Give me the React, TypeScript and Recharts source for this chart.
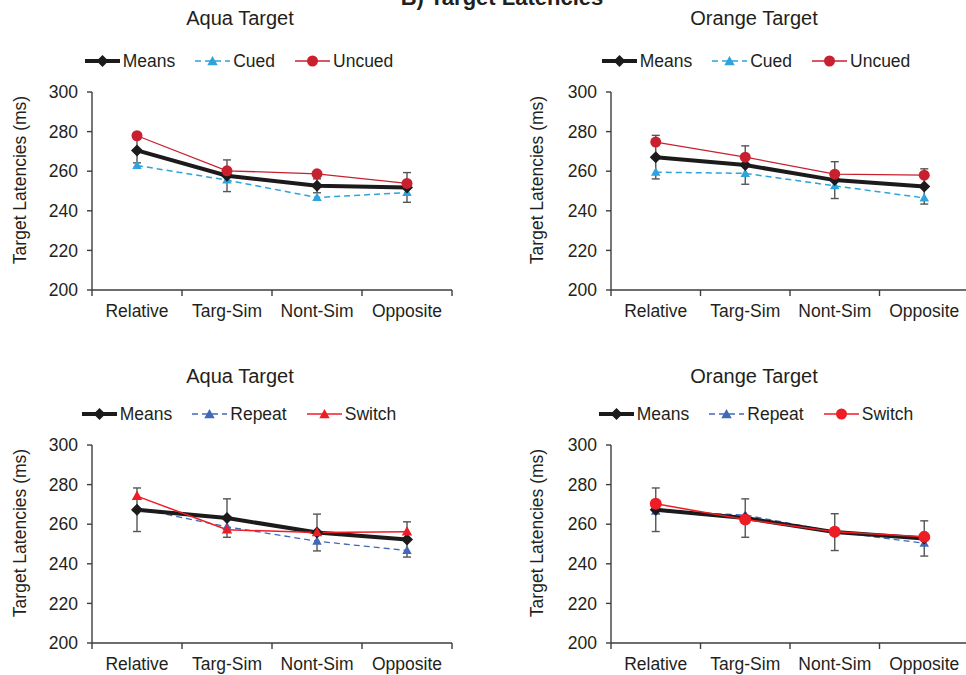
import React from 'react';
import { LineChart, Line, XAxis, YAxis, ErrorBar, Legend } from 'recharts';

// ---------- data ----------
const categories = ['Relative', 'Targ-Sim', 'Nont-Sim', 'Opposite'];
const yTicks = [200, 220, 240, 260, 280, 300];
const xTicks = [0, 0.5, 1, 1.5, 2, 2.5, 3, 3.5, 4];

// Top-left: Aqua Target (cued / uncued)
const aquaCueMeans = [270.5, 257.7, 252.6, 251.8];
const aquaCued = [262.9, 255.5, 246.7, 249.2];
const aquaUncued = [277.9, 260.2, 258.7, 253.8];
const aquaCueErr = [6.3, 8.0, 3.5, 7.5];

// Top-right: Orange Target (cued / uncued)
const orangeCueMeans = [267.1, 263.1, 255.5, 252.3];
const orangeCued = [259.5, 258.9, 252.6, 246.5];
const orangeUncued = [274.7, 267.1, 258.5, 258.0];
const orangeCueErr = [11.0, 9.7, 9.3, 8.9];

// Bottom-left: Aqua Target (repeat / switch)
const aquaSwMeans = [267.3, 263.1, 255.8, 252.3];
const aquaRepeat = [268.0, 258.7, 251.4, 246.7];
const aquaSwitch = [274.2, 257.2, 255.8, 256.2];
const aquaSwErr = [11.0, 9.7, 9.3, 8.9];

// Bottom-right: Orange Target (repeat / switch)
const orangeSwMeans = [267.3, 263.1, 256.0, 252.8];
const orangeRepeat = [266.6, 264.6, 256.2, 250.4];
const orangeSwitch = [270.3, 262.4, 256.2, 253.6];
const orangeSwErr = [11.0, 9.7, 9.3, 8.9];

// ---------- styles ----------
const FONT = '"Liberation Sans", Arial, Helvetica, sans-serif';
const TEXT = '#231f20';
const AXIS = '#3d3d3d';
const MEANS = '#1c1a1b';
const CUED = '#2ea3dc';
const UNCUED = '#c8202f';
const REPEAT = '#4169b8';
const SWITCH = '#ee1c25';
const ERR = '#555555';

type Row = { pos: number; name: string; means: number; a: number; b: number; err: number };

function buildRows(means: number[], a: number[], b: number[], err: number[]): Row[] {
  return categories.map((c, i) => ({ pos: i + 0.5, name: c, means: means[i], a: a[i], b: b[i], err: err[i] }));
}

// ---------- marker shapes ----------
const diamondPts = (cx: number, cy: number, s: number) =>
  `${cx},${cy - s} ${cx + s},${cy} ${cx},${cy + s} ${cx - s},${cy}`;
const trianglePts = (cx: number, cy: number, s: number) =>
  `${cx},${cy - s} ${cx + s * 0.95},${cy + s * 0.7} ${cx - s * 0.95},${cy + s * 0.7}`;

const makeDot = (kind: 'diamond' | 'triangle' | 'circle', color: string, size: number) => (p: any) => {
  const { cx, cy, index } = p;
  const key = `${kind}-${color}-${index}`;
  if (cx == null || cy == null) return <g key={key} />;
  if (kind === 'diamond') return <polygon key={key} points={diamondPts(cx, cy, size)} fill={color} />;
  if (kind === 'triangle') return <polygon key={key} points={trianglePts(cx, cy, size)} fill={color} />;
  return <circle key={key} cx={cx} cy={cy} r={size} fill={color} />;
};

const XTick = (props: any) => {
  const { x, y, payload } = props;
  const v = payload.value as number;
  if (Number.isInteger(v)) {
    return <line x1={x} x2={x} y1={y} y2={y + 6} stroke={AXIS} strokeWidth={1.4} />;
  }
  return (
    <text x={x} y={y + 27} textAnchor="middle" fill={TEXT} fontSize={17.5} fontFamily={FONT}>
      {categories[Math.floor(v)]}
    </text>
  );
};

type LegendSpec = { label: string; color: string; width: number; dash?: string; kind: 'diamond' | 'triangle' | 'circle'; size: number };

const LegendRow = ({ items }: { items: LegendSpec[] }) => (
  <div
    style={{
      display: 'flex',
      alignItems: 'center',
      justifyContent: 'center',
      fontFamily: FONT,
      fontSize: 17.5,
      color: TEXT,
      whiteSpace: 'nowrap',
      width: '100%',
      height: 22,
    }}
  >
    {items.map((it, i) => (
      <div key={it.label} style={{ display: 'flex', alignItems: 'center', marginLeft: i === 0 ? 0 : 20 }}>
        <svg width={35} height={16} style={{ display: 'block' }}>
          <line x1={0} x2={35} y1={8} y2={8} stroke={it.color} strokeWidth={it.width} strokeDasharray={it.dash} />
          {it.kind === 'diamond' && <polygon points={diamondPts(17.5, 8, it.size)} fill={it.color} />}
          {it.kind === 'triangle' && <polygon points={trianglePts(17.5, 8.5, it.size)} fill={it.color} />}
          {it.kind === 'circle' && <circle cx={17.5} cy={8} r={it.size} fill={it.color} />}
        </svg>
        <span style={{ marginLeft: 3, lineHeight: '22px' }}>{it.label}</span>
      </div>
    ))}
  </div>
);

type PanelProps = {
  left: number;
  top: number;
  width: number;
  yAxisWidth: number;
  rightMargin: number;
  labelX: number;
  legendCenter: number;
  rows: Row[];
  aName: string;
  aColor: string;
  aKind: 'triangle' | 'circle';
  aSize: number;
  aDash?: string;
  aWidth: number;
  bName: string;
  bColor: string;
  bKind: 'triangle' | 'circle';
  bSize: number;
  bDash?: string;
  bWidth: number;
};

const PLOT_TOP = 92;
const PLOT_H = 198;
const XAXIS_H = 40;

const Panel = (p: PanelProps) => {
  const legendItems: LegendSpec[] = [
    { label: 'Means', color: MEANS, width: 4, kind: 'diamond', size: 6 },
    { label: p.aName, color: p.aColor, width: p.aWidth, dash: p.aDash, kind: p.aKind, size: p.aKind === 'circle' ? 5.5 : 5.5 },
    { label: p.bName, color: p.bColor, width: p.bWidth, dash: p.bDash, kind: p.bKind, size: p.bKind === 'circle' ? 5.5 : 5.5 },
  ];
  const legendW = 380;
  return (
    <div style={{ position: 'absolute', left: p.left, top: p.top }}>
      <LineChart
        width={p.width}
        height={PLOT_TOP + PLOT_H + XAXIS_H}
        data={p.rows}
        margin={{ top: PLOT_TOP, right: p.rightMargin, bottom: 0, left: 0 }}
      >
        <XAxis
          type="number"
          dataKey="pos"
          domain={[0, 4]}
          ticks={xTicks}
          interval={0}
          tickSize={0}
          tickMargin={0}
          tickLine={false}
          tick={XTick}
          height={XAXIS_H}
          axisLine={{ stroke: AXIS, strokeWidth: 1.4 }}
          allowDataOverflow
        />
        <YAxis
          type="number"
          domain={[200, 300]}
          ticks={yTicks}
          interval={0}
          width={p.yAxisWidth}
          tickSize={5}
          tickMargin={9}
          tick={{ fill: TEXT, fontSize: 17.5, fontFamily: FONT }}
          tickLine={{ stroke: AXIS, strokeWidth: 1.4 }}
          axisLine={{ stroke: AXIS, strokeWidth: 1.4 }}
          allowDataOverflow
          label={() => (
            <text
              x={p.labelX}
              y={PLOT_TOP + PLOT_H / 2 - 11}
              transform={`rotate(-90 ${p.labelX} ${PLOT_TOP + PLOT_H / 2 - 11})`}
              textAnchor="middle"
              dominantBaseline="central"
              fill={TEXT}
              fontSize={17.5}
              fontFamily={FONT}
            >
              Target Latencies (ms)
            </text>
          )}
        />
        <Legend
          layout="horizontal"
          verticalAlign="middle"
          align="center"
          wrapperStyle={{ left: p.legendCenter - legendW / 2, top: 50, width: legendW, height: 22 }}
          content={() => <LegendRow items={legendItems} />}
        />
        <Line
          dataKey="a"
          name={p.aName}
          stroke={p.aColor}
          strokeWidth={p.aWidth}
          strokeDasharray={p.aDash}
          dot={makeDot(p.aKind, p.aColor, p.aSize)}
          activeDot={false}
          isAnimationActive={false}
          type="linear"
        />
        <Line
          dataKey="means"
          name="Means"
          stroke={MEANS}
          strokeWidth={4}
          dot={makeDot('diamond', MEANS, 6)}
          activeDot={false}
          isAnimationActive={false}
          type="linear"
        >
          <ErrorBar dataKey="err" direction="y" width={4} stroke={ERR} strokeWidth={1.4} isAnimationActive={false} />
        </Line>
        <Line
          dataKey="b"
          name={p.bName}
          stroke={p.bColor}
          strokeWidth={p.bWidth}
          strokeDasharray={p.bDash}
          dot={makeDot(p.bKind, p.bColor, p.bSize)}
          activeDot={false}
          isAnimationActive={false}
          type="linear"
        />
      </LineChart>
    </div>
  );
};

export default function App() {
  const tl = buildRows(aquaCueMeans, aquaCued, aquaUncued, aquaCueErr);
  const tr = buildRows(orangeCueMeans, orangeCued, orangeUncued, orangeCueErr);
  const bl = buildRows(aquaSwMeans, aquaRepeat, aquaSwitch, aquaSwErr);
  const br = buildRows(orangeSwMeans, orangeRepeat, orangeSwitch, orangeSwErr);

  const cueProps = {
    aName: 'Cued', aColor: CUED, aKind: 'triangle' as const, aSize: 5, aDash: '6 4', aWidth: 1.5,
    bName: 'Uncued', bColor: UNCUED, bKind: 'circle' as const, bSize: 5.5, bWidth: 1.3,
  };

  return (
    <div
      style={{
        position: 'absolute',
        left: 0,
        top: 0,
        width: 966,
        height: 675,
        overflow: 'hidden',
        background: '#ffffff',
        fontFamily: FONT,
      }}
    >
      <Panel left={0} top={0} width={483} yAxisWidth={92} rightMargin={31} labelX={19.5} legendCenter={239} rows={tl} {...cueProps} />
      <Panel left={483} top={0} width={490} yAxisWidth={128} rightMargin={4} labelX={54} legendCenter={273} rows={tr} {...cueProps} />
      <Panel
        left={0}
        top={353}
        width={483}
        yAxisWidth={92}
        rightMargin={31}
        labelX={19.5}
        legendCenter={239}
        rows={bl}
        aName="Repeat" aColor={REPEAT} aKind="triangle" aSize={5} aDash="6 4" aWidth={1.3}
        bName="Switch" bColor={SWITCH} bKind="triangle" bSize={5.5} bWidth={1.5}
      />
      <Panel
        left={483}
        top={353}
        width={490}
        yAxisWidth={128}
        rightMargin={4}
        labelX={54}
        legendCenter={273}
        rows={br}
        aName="Repeat" aColor={REPEAT} aKind="triangle" aSize={5} aDash="6 4" aWidth={1.3}
        bName="Switch" bColor={SWITCH} bKind="circle" bSize={6} bWidth={1.5}
      />
      <svg width={966} height={675} style={{ position: 'absolute', left: 0, top: 0, pointerEvents: 'none' }}>
        <text x={502} y={5} textAnchor="middle" fontSize={22} fontWeight="bold" fill={TEXT} fontFamily={FONT}>
          B) Target Latencies
        </text>
        <text x={240} y={24.5} textAnchor="middle" fontSize={20} fill={TEXT} fontFamily={FONT}>Aqua Target</text>
        <text x={754} y={24.5} textAnchor="middle" fontSize={20} fill={TEXT} fontFamily={FONT}>Orange Target</text>
        <text x={240} y={383} textAnchor="middle" fontSize={20} fill={TEXT} fontFamily={FONT}>Aqua Target</text>
        <text x={754} y={383} textAnchor="middle" fontSize={20} fill={TEXT} fontFamily={FONT}>Orange Target</text>
      </svg>
    </div>
  );
}
